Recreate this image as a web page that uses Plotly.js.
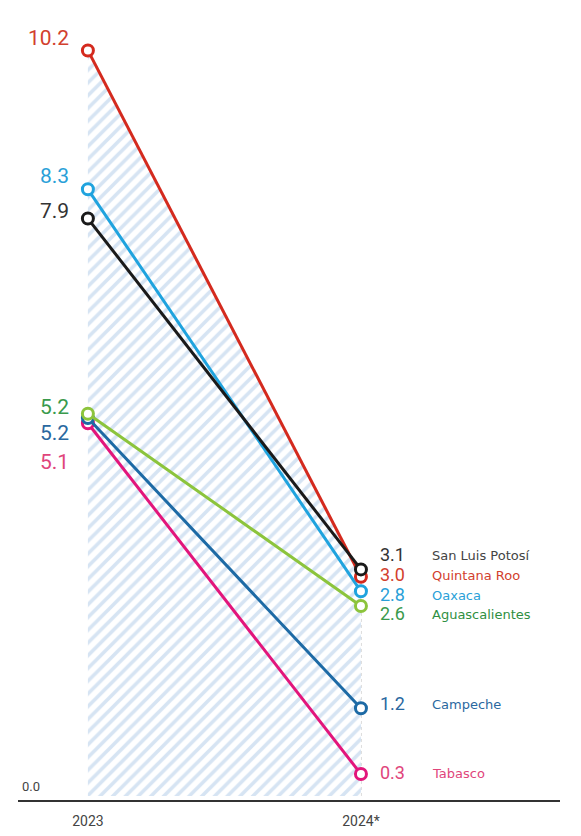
<!DOCTYPE html>
<html>
<head>
<meta charset="utf-8">
<script src="https://cdn.plot.ly/plotly-3.0.1.min.js"></script>
<style>
html,body{margin:0;padding:0;background:#fff;}
#chart{width:581px;height:836px;}
</style>
</head>
<body>
<div id="chart"></div>
<script>
// ---- data ----
const years = [2023, 2024];
const yearLabels = ['2023', '2024*'];
const states = ['Quintana Roo', 'Oaxaca', 'San Luis Potosí', 'Aguascalientes', 'Campeche', 'Tabasco'];
const quintanaRoo = [10.2, 3.0];
const oaxaca = [8.3, 2.8];
const sanLuisPotosi = [7.9, 3.1];
const aguascalientes = [5.23, 2.6];
const campeche = [5.17, 1.2];
const tabasco = [5.1, 0.3];
const series = [quintanaRoo, oaxaca, sanLuisPotosi, aguascalientes, campeche, tabasco];

// ---- styles ----
const lineColors = ['#d42a1e', '#1fa3de', '#1a1a1a', '#8cc43c', '#1d6aa5', '#e2157b'];
const textColors = ['#d2402e', '#2a9fd8', '#333333', '#3a9a4c', '#2a68a0', '#e0457b'];
const nameColors = ['#d2402e', '#2a9fd8', '#444444', '#2f8f42', '#2a68a0', '#e0457b'];
// order: QR, Oaxaca, SLP, Ags, Campeche, Tabasco
const leftShift = [12, 13, 8, 7, -15, -39];
const rightShift = [2, -3, 15, -8, 5, 2];
const numFont = 'Roboto, "Open Sans", sans-serif';
const nameFont = '"DejaVu Sans", Roboto, sans-serif';

const traces = [];
// hatched area under the top series
traces.push({
  x: years, y: quintanaRoo, type: 'scatter', mode: 'none',
  fill: 'tozeroy',
  fillcolor: '#ffffff',
  fillpattern: {shape: '/', fgcolor: '#d6e4f3', bgcolor: '#ffffff', size: 9, solidity: 0.4},
  hoverinfo: 'skip', showlegend: false
});
// draw order: bottom first so green ends on top at 2023
const order = [5, 4, 3, 1, 0, 2];
order.forEach(i => {
  traces.push({
    x: years, y: series[i], type: 'scatter', mode: 'lines+markers',
    name: states[i],
    line: {color: lineColors[i], width: 3},
    marker: {symbol: 'circle', size: 11, color: '#ffffff', line: {color: lineColors[i], width: 3}},
    showlegend: false, cliponaxis: false
  });
});

const annotations = [];
series.forEach((s, i) => {
  annotations.push({
    x: years[0], y: s[0], xref: 'x', yref: 'y', text: s[0].toFixed(1),
    showarrow: false, xanchor: 'right', yanchor: 'middle', xshift: -17, yshift: leftShift[i],
    font: {family: numFont, size: 21, color: textColors[i]}
  });
  annotations.push({
    x: years[1], y: s[1], xref: 'x', yref: 'y', text: s[1].toFixed(1),
    showarrow: false, xanchor: 'left', yanchor: 'middle', xshift: 17, yshift: rightShift[i],
    font: {family: numFont, size: 18, color: textColors[i]}
  });
  annotations.push({
    x: years[1], y: s[1], xref: 'x', yref: 'y', text: states[i],
    showarrow: false, xanchor: 'left', yanchor: 'middle', xshift: 69, yshift: rightShift[i] - 1,
    font: {family: nameFont, size: 13, color: nameColors[i]}
  });
});
annotations.push({
  x: 0, y: 0, xref: 'paper', yref: 'y', text: '0.0', showarrow: false,
  xanchor: 'left', yanchor: 'bottom', xshift: 2, yshift: 0,
  font: {family: numFont, size: 13, color: '#444'}
});

const maxRight = Math.max(...series.map(s => s[1]));
const layout = {
  width: 581, height: 836,
  margin: {l: 18, r: 21, t: 0, b: 36},
  paper_bgcolor: '#ffffff', plot_bgcolor: '#ffffff',
  xaxis: {
    range: [2022.744, 2024.729], tickvals: years, ticktext: yearLabels,
    showgrid: false, zeroline: false, showline: true, linecolor: '#333', linewidth: 2,
    ticks: '', ticklabelstandoff: 7,
    tickfont: {family: numFont, size: 14, color: '#444'}, fixedrange: true
  },
  yaxis: {range: [-0.055, 10.89], visible: false, showgrid: false, zeroline: false, fixedrange: true},
  shapes: [{
    type: 'line', xref: 'x', yref: 'y', x0: years[1], x1: years[1], y0: 0, y1: maxRight,
    line: {color: '#b5b5b5', width: 1, dash: 'dot'}, layer: 'below'
  }],
  annotations: annotations,
  showlegend: false
};

Plotly.newPlot('chart', traces, layout, {displayModeBar: false, staticPlot: true});
</script>
</body>
</html>
